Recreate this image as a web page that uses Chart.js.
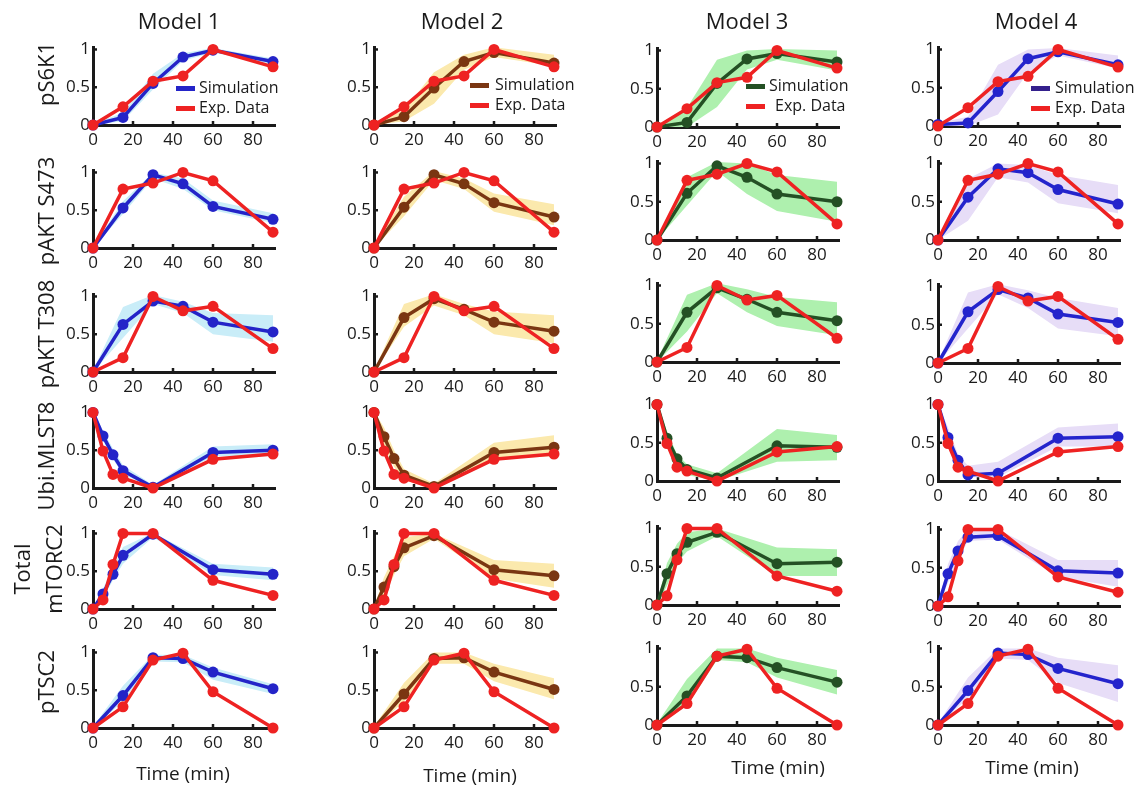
<!DOCTYPE html>
<html>
<head>
<meta charset="utf-8">
<script src="https://cdn.jsdelivr.net/npm/chart.js@4.4.1/dist/chart.umd.min.js"></script>
<style>
  body { margin: 0; background: #fff; font-family: "Open Sans", sans-serif; }
  #fig { position: relative; width: 1146px; height: 788px; overflow: hidden; }
  #fig canvas { position: absolute; }
  .lbl { position: absolute; color: #1a1a1a; white-space: nowrap; line-height: 1; transform: translate(-50%, -50%); }
  .rot { transform: translate(-50%, -50%) rotate(-90deg); }
  .leg { position: absolute; color: #1a1a1a; font-size: 16px; line-height: 1; white-space: nowrap; }
  .sw { position: absolute; width: 19px; height: 5px; }
</style>
</head>
<body>
<div id="fig"></div>
<script>
const models = ["Model 1", "Model 2", "Model 3", "Model 4"];
const proteins = ["pS6K1", "pAKT S473", "pAKT T308", "Ubi.MLST8", "Total\nmTORC2", "pTSC2"];
const timesA = [0, 15, 30, 45, 60, 90];
const timesB = [0, 5, 10, 15, 30, 60, 90];
const proteinTimes = [timesA, timesA, timesA, timesB, timesB, timesA];
const xTicks = [0, 20, 40, 60, 80];
const yTicks = [0, 0.5, 1];

// experimental data (same in every model)
const expData = [
  [0, 0.24, 0.58, 0.65, 1.0, 0.77],
  [0, 0.78, 0.86, 1.0, 0.89, 0.21],
  [0, 0.19, 1.0, 0.81, 0.87, 0.31],
  [1.0, 0.49, 0.18, 0.13, 0.0, 0.38, 0.45],
  [0, 0.12, 0.59, 1.0, 1.0, 0.38, 0.18],
  [0, 0.28, 0.90, 0.99, 0.48, 0.0]
];

// Model 1
const sim1 = [
  [0, 0.10, 0.55, 0.90, 0.99, 0.84],
  [0, 0.53, 0.97, 0.85, 0.55, 0.38],
  [0, 0.63, 0.94, 0.87, 0.66, 0.53],
  [1, 0.69, 0.44, 0.23, 0.01, 0.47, 0.50],
  [0, 0.20, 0.46, 0.71, 0.99, 0.52, 0.46],
  [0, 0.43, 0.93, 0.92, 0.74, 0.52]
];
const lo1 = [
  [0, 0.05, 0.47, 0.85, 0.96, 0.80],
  [0, 0.45, 0.92, 0.78, 0.50, 0.33],
  [0, 0.45, 0.90, 0.78, 0.50, 0.40],
  [0.98, 0.63, 0.38, 0.18, 0, 0.42, 0.42],
  [0, 0.14, 0.38, 0.60, 0.95, 0.45, 0.38],
  [0, 0.35, 0.88, 0.87, 0.64, 0.45]
];
const hi1 = [
  [0.02, 0.16, 0.68, 0.95, 1.02, 0.88],
  [0.02, 0.62, 1.00, 0.92, 0.63, 0.46],
  [0.02, 0.86, 1.02, 0.93, 0.78, 0.75],
  [1.02, 0.76, 0.52, 0.30, 0.04, 0.55, 0.58],
  [0.02, 0.27, 0.55, 0.82, 1.01, 0.60, 0.55],
  [0.02, 0.56, 0.97, 0.97, 0.80, 0.58]
];

// Model 2
const sim2 = [
  [0, 0.11, 0.49, 0.84, 0.96, 0.82],
  [0, 0.54, 0.97, 0.85, 0.60, 0.41],
  [0, 0.72, 0.97, 0.83, 0.66, 0.54],
  [1, 0.68, 0.39, 0.17, 0.02, 0.47, 0.54],
  [0, 0.29, 0.56, 0.81, 0.97, 0.52, 0.44],
  [0, 0.45, 0.92, 0.93, 0.74, 0.51]
];
const lo2 = [
  [0, 0.05, 0.28, 0.73, 0.90, 0.78],
  [0, 0.42, 0.90, 0.78, 0.48, 0.30],
  [0, 0.60, 0.88, 0.75, 0.50, 0.38],
  [0.98, 0.55, 0.28, 0.10, 0, 0.38, 0.42],
  [0, 0.15, 0.45, 0.70, 0.93, 0.40, 0.28],
  [0, 0.35, 0.85, 0.85, 0.62, 0.38]
];
const hi2 = [
  [0.02, 0.20, 0.70, 0.93, 1.03, 0.93],
  [0.02, 0.68, 1.02, 0.92, 0.72, 0.58],
  [0.02, 0.90, 1.03, 0.90, 0.80, 0.75],
  [1.02, 0.80, 0.50, 0.25, 0.06, 0.60, 0.70],
  [0.02, 0.42, 0.70, 0.95, 1.00, 0.65, 0.60],
  [0.02, 0.60, 1.00, 1.00, 0.85, 0.66]
];

// Model 3
const sim3 = [
  [0, 0.06, 0.57, 0.89, 0.96, 0.85],
  [0, 0.61, 0.97, 0.82, 0.60, 0.50],
  [0, 0.65, 0.97, 0.82, 0.65, 0.54],
  [1, 0.56, 0.29, 0.15, 0.04, 0.46, 0.44],
  [0, 0.41, 0.67, 0.82, 0.95, 0.54, 0.56],
  [0, 0.38, 0.90, 0.88, 0.75, 0.56]
];
const lo3 = [
  [0, 0, 0.26, 0.75, 0.88, 0.74],
  [0, 0.45, 0.90, 0.60, 0.38, 0.24],
  [0, 0.40, 0.90, 0.65, 0.47, 0.35],
  [0.98, 0.45, 0.20, 0.08, 0, 0.25, 0.27],
  [0, 0.25, 0.55, 0.70, 0.90, 0.38, 0.38],
  [0, 0.25, 0.85, 0.82, 0.62, 0.40]
];
const hi3 = [
  [0.02, 0.25, 0.88, 1.00, 1.02, 1.00],
  [0.02, 0.82, 1.02, 1.00, 0.85, 0.76],
  [0.02, 0.88, 1.03, 0.95, 0.85, 0.78],
  [1.02, 0.65, 0.35, 0.22, 0.10, 0.68, 0.60],
  [0.02, 0.55, 0.80, 0.95, 1.00, 0.75, 0.73],
  [0.02, 0.60, 1.00, 1.00, 0.88, 0.72]
];

// Model 4
const sim4 = [
  [0.02, 0.04, 0.45, 0.88, 0.97, 0.80],
  [0, 0.56, 0.93, 0.88, 0.66, 0.47],
  [0, 0.67, 0.96, 0.85, 0.64, 0.53],
  [1, 0.57, 0.27, 0.08, 0.10, 0.56, 0.58],
  [0, 0.42, 0.72, 0.90, 0.92, 0.46, 0.43],
  [0, 0.45, 0.94, 0.92, 0.74, 0.54]
];
const lo4 = [
  [0, 0, 0.15, 0.70, 0.92, 0.75],
  [0, 0.25, 0.82, 0.75, 0.48, 0.35],
  [0, 0.45, 0.90, 0.72, 0.45, 0.35],
  [0.98, 0.45, 0.18, 0.05, 0.05, 0.45, 0.45],
  [0, 0.30, 0.60, 0.85, 0.87, 0.38, 0.25],
  [0, 0.35, 0.87, 0.85, 0.55, 0.30]
];
const hi4 = [
  [0.04, 0.12, 0.80, 1.00, 1.02, 0.92],
  [0.02, 0.80, 1.00, 0.98, 0.85, 0.72],
  [0.02, 0.92, 1.03, 0.95, 0.85, 0.72],
  [1.02, 0.70, 0.35, 0.20, 0.25, 0.70, 0.75],
  [0.02, 0.55, 0.85, 1.00, 1.00, 0.60, 0.60],
  [0.02, 0.62, 1.00, 1.00, 0.88, 0.78]
];

const sims = [sim1, sim2, sim3, sim4];
const los = [lo1, lo2, lo3, lo4];
const his = [hi1, hi2, hi3, hi4];

const expColor = "#ee2222";
const simColors = ["#2424c8", "#7a3612", "#245024", "#2424cc"];
const legendSimColors = ["#2424c8", "#7a3612", "#245024", "#34208c"];
const bandColors = ["#c9edf8", "#fbe9ad", "#aef0ae", "#e7ddf7"];
const ink = "#1a1a1a";
const font = "'Open Sans', sans-serif";

// layout (pixels)
const colX = [93, 374, 657, 938];
const rowBottom = [
  [125, 248, 372, 488, 609, 728],
  [125, 248, 372, 488, 609, 728],
  [127, 240, 362, 481, 605, 725],
  [126, 240, 363, 481, 606, 725]
];
const unitH = [77, 77, 78, 78];
const fig = document.getElementById("fig");

// small inward tick marks like the original figure
const innerTicks = {
  id: "innerTicks",
  beforeDatasetsDraw(chart) {
    const { ctx, chartArea: a, scales: { x, y } } = chart;
    ctx.save();
    ctx.strokeStyle = ink;
    ctx.lineWidth = 2.5;
    x.ticks.forEach(t => {
      if (t.value === 0) return;
      const px = x.getPixelForValue(t.value);
      ctx.beginPath(); ctx.moveTo(px, a.bottom); ctx.lineTo(px, a.bottom - 4); ctx.stroke();
    });
    y.ticks.forEach(t => {
      if (t.value === 0) return;
      const py = y.getPixelForValue(t.value);
      ctx.beginPath(); ctx.moveTo(a.left, py); ctx.lineTo(a.left + 4, py); ctx.stroke();
    });
    ctx.restore();
  }
};

function makePanel(m, p) {
  const padL = 42, padR = 14, padT = 12, padB = 30, plotW = 182;
  const yMax = 1.03;
  const plotH = Math.round(yMax * unitH[m]);
  const cv = document.createElement("canvas");
  cv.width = padL + plotW + padR;
  cv.height = padT + plotH + padB;
  cv.style.left = (colX[m] - padL) + "px";
  cv.style.top = (rowBottom[m][p] - plotH - padT) + "px";
  fig.appendChild(cv);

  const t = proteinTimes[p];
  const pts = arr => t.map((x, i) => ({ x: x, y: arr[i] }));
  const axisOpts = pad => ({
    grid: { display: false, drawTicks: false },
    border: { color: ink, width: 3 },
    ticks: { padding: pad, color: ink, font: { family: font, size: 17 }, maxRotation: 0, autoSkip: false,
             callback: v => String(v) }
  });

  new Chart(cv, {
    type: "line",
    data: {
      datasets: [
        { label: "Exp. Data", data: pts(expData[p]), borderColor: expColor, backgroundColor: expColor,
          borderWidth: 3.5, pointRadius: 5.5, pointBorderWidth: 0, clip: false, fill: false, order: 0 },
        { label: "Simulation", data: pts(sims[m][p]), borderColor: simColors[m], backgroundColor: simColors[m],
          borderWidth: 3.5, pointRadius: 5.5, pointBorderWidth: 0, clip: false, fill: false, order: 1 },
        { label: "lower", data: pts(los[m][p]), borderWidth: 0, pointRadius: 0, fill: false, order: 3 },
        { label: "upper", data: pts(his[m][p]), borderWidth: 0, pointRadius: 0, fill: 2,
          backgroundColor: bandColors[m], order: 2 }
      ]
    },
    options: {
      responsive: false,
      animation: false,
      devicePixelRatio: 1,
      layout: { padding: { top: padT, right: padR, left: 0, bottom: 0 } },
      plugins: { legend: { display: false }, tooltip: { enabled: false } },
      scales: {
        x: Object.assign({
          type: "linear", min: 0, max: 91,
          afterBuildTicks: s => { s.ticks = xTicks.map(v => ({ value: v })); },
          afterFit: s => { s.height = padB; }
        }, axisOpts(5)),
        y: Object.assign({
          min: 0, max: yMax,
          afterBuildTicks: s => { s.ticks = yTicks.map(v => ({ value: v })); },
          afterFit: s => { s.width = padL; }
        }, axisOpts(3))
      }
    },
    plugins: [innerTicks]
  });
}

function addText(text, x, y, size, cls) {
  const d = document.createElement("div");
  d.className = "lbl" + (cls ? " " + cls : "");
  d.style.left = x + "px";
  d.style.top = y + "px";
  d.style.fontSize = size + "px";
  d.textContent = text;
  fig.appendChild(d);
}

for (let m = 0; m < models.length; m++) {
  for (let p = 0; p < proteins.length; p++) makePanel(m, p);
}

// column titles and x axis titles
const titlePos = [[179, 20], [462, 20], [747, 20], [1036, 20]];
const timePos = [[183, 773], [470, 775], [778, 767], [1032, 767]];
models.forEach((name, m) => {
  addText(name, titlePos[m][0], titlePos[m][1], 22);
  addText("Time (min)", timePos[m][0], timePos[m][1], 19);
});

// row titles
const rowLabelY = [74, 211, 334, 456, 569, 682];
proteins.forEach((name, p) => {
  const lines = name.split("\n");
  if (lines.length === 1) {
    addText(name, 45, rowLabelY[p], 22, "rot");
  } else {
    addText(lines[0], 21, rowLabelY[p], 22, "rot");
    addText(lines[1], 53, rowLabelY[p], 22, "rot");
  }
});

// legends in the first row
const legendPos = [[176, 88], [470, 85], [746, 86], [1031, 88]];
const legendTextGap = [23, 25, 23, 24];
models.forEach((name, m) => {
  const items = [["Simulation", legendSimColors[m]], ["Exp. Data", expColor]];
  items.forEach(([label, color], k) => {
    const x = legendPos[m][0], y = legendPos[m][1] + k * 20;
    const sw = document.createElement("div");
    sw.className = "sw";
    sw.style.left = x + "px";
    sw.style.top = (y - 2.5) + "px";
    sw.style.background = color;
    fig.appendChild(sw);
    const tx = document.createElement("div");
    tx.className = "leg";
    tx.style.left = (x + legendTextGap[m] + (m === 2 && k === 1 ? 6 : 0)) + "px";
    tx.style.top = (y - 9) + "px";
    tx.textContent = label;
    fig.appendChild(tx);
  });
});
</script>
</body>
</html>
